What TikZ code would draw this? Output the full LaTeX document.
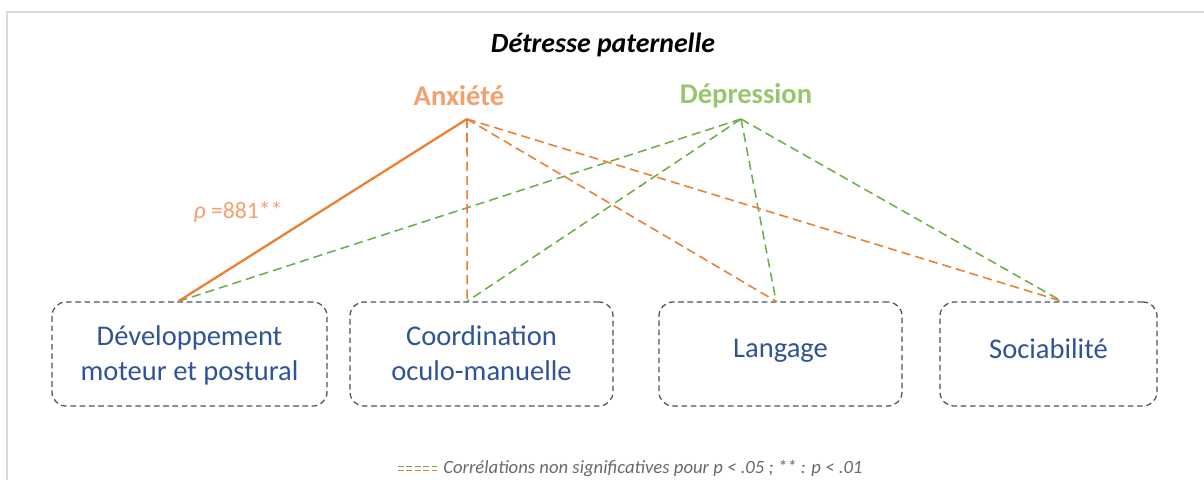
\documentclass[tikz,border=0pt]{standalone}
\usepackage{fontspec}
\setmainfont{Carlito}
\usetikzlibrary{positioning}
\definecolor{dpedge}{RGB}{68,84,106}
\definecolor{dptext}{RGB}{47,84,150}
\definecolor{dpanx}{RGB}{237,125,49}
\definecolor{dpanxl}{RGB}{243,160,108}
\definecolor{dpdep}{RGB}{112,173,71}
\definecolor{dpdepl}{RGB}{150,198,110}
\definecolor{dpframe}{RGB}{218,218,218}
\definecolor{dpnote}{RGB}{105,105,105}
\tikzset{
  dombox/.style={
    draw=dpedge, dash pattern=on 4pt off 2.6pt, line width=0.9pt,
    rounded corners=10pt, align=center, inner sep=0pt,
    text=dptext, font=\fontsize{20.3}{24.6}\selectfont,
    minimum height=2.6cm
  },
  fac/.style={font=\bfseries\fontsize{20.3}{24}\selectfont, inner sep=0pt},
  anxline/.style={draw=dpanx, line width=1.6pt},
  anxdash/.style={draw=dpanx, line width=1.1pt, dash pattern=on 6.5pt off 3.6pt},
  depdash/.style={draw=dpdep, line width=1.1pt, dash pattern=on 6.5pt off 3.6pt},
  note/.style={font=\itshape\fontsize{13.3}{16}\selectfont, text=dpnote, inner sep=0pt}
}
\begin{document}
\begin{tikzpicture}[x=0.025cm, y=-0.025cm]
  \useasboundingbox (0,0) rectangle (1204,480);
  % frame
  \draw[dpframe, line width=0.8pt] (7,480) -- (7,12) -- (1204,12);

  % title and factors
  \node[font=\bfseries\itshape\fontsize{19.8}{24}\selectfont, inner sep=0pt] (title) at (603,45)
    {Détresse paternelle};
  \node[fac, text=dpanxl] (anx) at (459,96) {Anxiété};
  \node[fac, text=dpdepl] (dep) at (746,96) {Dépression};
  \coordinate (anxpt) at (467,119);
  \coordinate (deppt) at (741,119);

  % domains
  \node[dombox, minimum width=6.875cm, text depth=1pt] (b1) at (189.5,354)
    {Développement\\moteur et postural};
  \node[dombox, minimum width=6.575cm, text depth=1pt] (b2) at (481.5,354)
    {Coordination\\oculo-manuelle};
  \node[dombox, minimum width=6.075cm, text depth=8pt] (b3) at (780.5,354) {Langage};
  \node[dombox, minimum width=5.425cm, text depth=8pt] (b4) at (1048.5,354) {Sociabilité};

  % correlations
  \draw[depdash] (deppt) -- ([xshift=-0.28cm]b1.north);
  \draw[depdash] (deppt) -- ([xshift=-0.36cm]b2.north);
  \draw[depdash] (deppt) -- ([xshift=-0.11cm]b3.north);
  \draw[depdash] (deppt) -- ([xshift=0.34cm]b4.north);
  \draw[anxdash] (anxpt) -- ([xshift=-0.36cm]b2.north);
  \draw[anxdash] (anxpt) -- ([xshift=-0.11cm]b3.north);
  \draw[anxdash] (anxpt) -- ([xshift=0.34cm]b4.north);
  \draw[anxline] (anxpt) -- ([xshift=-0.28cm]b1.north);
  \node[text=dpanxl, font=\fontsize{16.8}{20}\selectfont, inner sep=0pt] (rho) at (238,212)
    {\textit{ρ} =881**};

  % legend
  \draw[depdash, line width=0.7pt, dash pattern=on 4pt off 2pt] (398,466) -- (437,466);
  \draw[anxdash, line width=0.7pt, dash pattern=on 4pt off 2pt] (398,470) -- (437,470);
  \node[note, anchor=west] (legend) at (443,468)
    {Corrélations non significatives pour p < .05 ; ** : p < .01};
\end{tikzpicture}
\end{document}
